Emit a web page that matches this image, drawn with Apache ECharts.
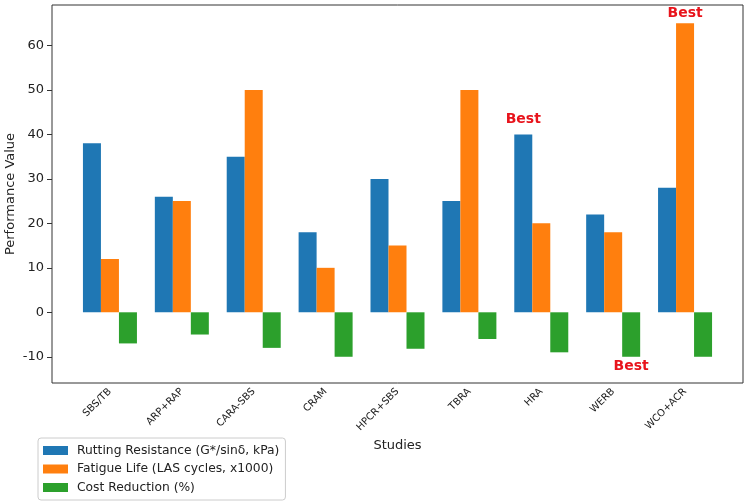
<!DOCTYPE html>
<html>
<head>
<meta charset="utf-8">
<script src="https://cdn.jsdelivr.net/npm/echarts@6/dist/echarts.min.js"></script>
<style>
  html, body { margin: 0; padding: 0; background: #fff; }
  #chart { width: 748px; height: 504px; }
</style>
</head>
<body>
<div id="chart"></div>
<script>
// 数据
var studies = ['SBS/TB', 'ARP+RAP', 'CARA-SBS', 'CRAM', 'HPCR+SBS', 'TBRA', 'HRA', 'WERB', 'WCO+ACR'];
var rutting = [38, 26, 35, 18, 30, 25, 40, 22, 28];
var fatigue = [12, 25, 50, 10, 15, 50, 20, 18, 65];
var cost = [-7, -5, -8, -10, -8.2, -6, -9, -10, -10];
var yTicks = [-10, 0, 10, 20, 30, 40, 50, 60];
// 标注 "Best" 的位置 (类目索引)
var bestRutting = 6, bestFatigue = 8, bestCost = 7;

var font = 'DejaVu Sans';
var yMin = -15.9, yMax = 69.1;

function withBest(values, idx, pos, dist) {
    return values.map(function (v, i) {
        if (i !== idx) return v;
        return {
            value: v,
            label: {
                show: true, formatter: 'Best', position: pos, distance: dist,
                color: '#e8141c', fontWeight: 'bold', fontSize: 14, fontFamily: font
            }
        };
    });
}

var chart = echarts.init(document.getElementById('chart'));
chart.setOption({
    animation: false,
    backgroundColor: '#fff',
    // grid 0: 外框 + y 轴; grid 1: 柱子 (类目两端留白与原图一致)
    grid: [
        { left: 52, right: 5, top: 5, bottom: 121, outerBoundsMode: 'none',
          show: true, borderColor: '#333', borderWidth: 1 },
        { left: 74, right: 27, top: 5, bottom: 121, outerBoundsMode: 'none' }
    ],
    legend: {
        orient: 'vertical', left: 38, top: 438,
        padding: [5, 6, 5, 5], itemGap: 3.5, itemWidth: 25, itemHeight: 9,
        borderColor: '#ccc', borderWidth: 1, borderRadius: 3, backgroundColor: '#fff',
        icon: 'rect',
        textStyle: { fontFamily: font, fontSize: 12.3, color: '#222', lineHeight: 15, padding: [0, 0, 0, 4] }
    },
    xAxis: [{
        gridIndex: 0, type: 'category', data: studies, show: false
    }, {
        gridIndex: 1, type: 'category', data: studies,
        name: 'Studies', nameLocation: 'middle', nameGap: 56, nameMoveOverlap: false,
        nameTextStyle: { fontFamily: font, fontSize: 13, color: '#222' },
        axisLine: { show: false },
        axisTick: { alignWithLabel: true, length: 5, lineStyle: { color: '#333' } },
        axisLabel: { rotate: 45, fontFamily: font, fontSize: 10, color: '#222', margin: 7 }
    }],
    yAxis: [{
        gridIndex: 0, type: 'value', min: yMin, max: yMax,
        name: 'Performance Value', nameLocation: 'middle', nameGap: 35, nameMoveOverlap: false,
        nameTextStyle: { fontFamily: font, fontSize: 13, color: '#222' },
        axisLine: { show: false },
        splitLine: { show: false },
        axisTick: { show: true, length: 5, customValues: yTicks, lineStyle: { color: '#333' } },
        axisLabel: { fontFamily: font, fontSize: 13, color: '#222', margin: 8, customValues: yTicks }
    }, {
        gridIndex: 1, type: 'value', min: yMin, max: yMax, show: false,
        splitLine: { show: false }
    }],
    series: [{
        name: 'Rutting Resistance (G*/sinδ, kPa)', type: 'bar',
        xAxisIndex: 1, yAxisIndex: 1,
        barWidth: 18, barGap: '0%', itemStyle: { color: '#1f77b4' },
        data: withBest(rutting, bestRutting, 'top', 8)
    }, {
        name: 'Fatigue Life (LAS cycles, x1000)', type: 'bar',
        xAxisIndex: 1, yAxisIndex: 1,
        barWidth: 18, barGap: '0%', itemStyle: { color: '#ff7f0e' },
        data: withBest(fatigue, bestFatigue, 'top', 3)
    }, {
        name: 'Cost Reduction (%)', type: 'bar',
        xAxisIndex: 1, yAxisIndex: 1,
        barWidth: 18, barGap: '0%', itemStyle: { color: '#2ca02c' },
        data: withBest(cost, bestCost, 'bottom', 3)
    }]
});
</script>
</body>
</html>
